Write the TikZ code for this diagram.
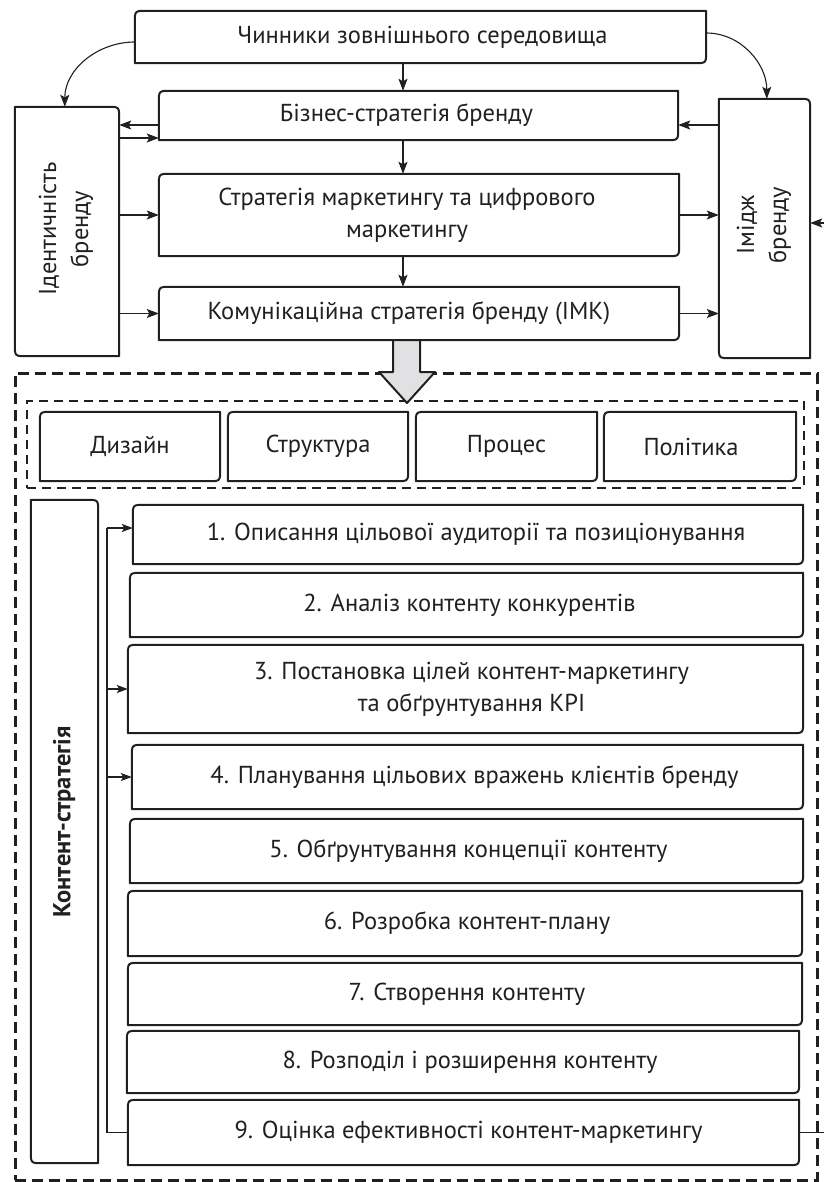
\documentclass[tikz,border=0pt]{standalone}
\usepackage{fontspec}
\setmainfont{PT Sans}
\usetikzlibrary{arrows.meta,calc}
\definecolor{ink}{HTML}{231F20}
\definecolor{arrowgray}{HTML}{E1E1E3}
\newcommand\fs{\fontsize{24.5}{32}\selectfont}
\def\rr{12pt}
\newcommand\tlbrbox[1]{\draw[edge] (#1.south west) -- ([yshift=-\rr]#1.north west) .. controls (#1.north west) .. ([xshift=\rr]#1.north west) -- (#1.north east) -- ([yshift=\rr]#1.south east) .. controls (#1.south east) .. ([xshift=-\rr]#1.south east) -- cycle;}
\newcommand\trblbox[1]{\draw[edge] (#1.north west) -- ([xshift=-\rr]#1.north east) .. controls (#1.north east) .. ([yshift=-\rr]#1.north east) -- (#1.south east) -- ([xshift=\rr]#1.south west) .. controls (#1.south west) .. ([yshift=\rr]#1.south west) -- cycle;}
\begin{document}
\begin{tikzpicture}[x=1pt,y=-1pt,
  box/.style={rectangle, inner sep=0pt, align=center, font=\fs, text=ink},
  edge/.style={draw=ink, line width=2pt, line join=round},
  conn/.style={draw=ink, line width=1.1pt, -{Stealth[length=12pt,width=9pt,inset=2.5pt]}},
  connS/.style={draw=ink, line width=1.1pt, -{Stealth[length=11pt,width=8pt,inset=2.5pt]}},
  plainline/.style={draw=ink, line width=1.1pt},
  lbl/.style={font=\fs, align=center, text=ink, inner sep=0pt},
  rlbl/.style={font=\fs, align=center, text=ink, inner sep=0pt, rotate=90},
  ]
\useasboundingbox (0,0) rectangle (823,1182);

% dashed frames
\node[draw=ink, line width=3pt, dash pattern=on 11pt off 6pt, minimum width=802pt, minimum height=807pt, inner sep=0pt] (outer) at (416,776.5) {};
\node[draw=ink, line width=2.2pt, dash pattern=on 9pt off 6pt, minimum width=777pt, minimum height=87pt, inner sep=0pt] (inner) at (415.5,444.5) {};

% big hollow arrow
\fill[arrowgray] (393,340) -- (393,372) -- (379,372) -- (407,403) -- (435,372) -- (420,372) -- (420,340) -- cycle;
\draw[edge] (393,340) -- (393,372) -- (379,372) -- (407,403) -- (435,372) -- (420,372) -- (420,340);

% top boxes
\node[box, minimum width=571pt, minimum height=52pt, label={[lbl, xshift=2pt]center:Чинники зовнішнього середовища}] (chin) at (420.5,37) {};
\node[box, minimum width=519pt, minimum height=49pt, label={[lbl, xshift=-12pt]center:Бізнес-стратегія бренду}] (biz) at (418.5,115.5) {};
\node[box, minimum width=520pt, minimum height=82pt, label={[lbl, xshift=-12pt]center:Стратегія маркетингу та цифрового\\маркетингу}] (strat) at (419,215) {};
\node[box, minimum width=520pt, minimum height=53pt, label={[lbl, xshift=-10pt]center:Комунікаційна стратегія бренду (IMK)}] (kom) at (419,313.5) {};
\node[box, minimum width=104pt, minimum height=249pt] (ident) at (67,231.5) {};
\node[rlbl] (identtxt) at (66,229) {Ідентичність\\бренду};
\node[box, minimum width=91pt, minimum height=259pt] (image) at (764.5,228.5) {};
\node[rlbl] (imagetxt) at (764,225) {Імідж\\бренду};
\tlbrbox{chin}\tlbrbox{biz}\tlbrbox{strat}\tlbrbox{kom}
\trblbox{ident}\trblbox{image}

% design row
\node[box, minimum width=180pt, minimum height=69pt] (d1) at (130,446.5) {Дизайн};
\node[box, minimum width=180pt, minimum height=69pt] (d2) at (318,446.5) {Структура};
\node[box, minimum width=181pt, minimum height=69pt] (d3) at (506.5,446.5) {Процес};
\node[box, minimum width=192pt, minimum height=69pt, label={[lbl, xshift=-9pt]center:Політика}] (d4) at (700,446.5) {};
\tlbrbox{d1}\tlbrbox{d2}\tlbrbox{d3}\tlbrbox{d4}

% content strategy
\node[box, minimum width=67pt, minimum height=663pt] (cont) at (64.5,831.5) {};
\node[rlbl, font=\fs\bfseries] (conttxt) at (64,822) {Контент-стратегія};
\trblbox{cont}

\node[box, minimum width=670pt, minimum height=59pt, label={[lbl, xshift=8pt]center:1. Описання цільової аудиторії та позиціонування}] (i1) at (468,534.5) {};
\node[box, minimum width=673pt, minimum height=64pt, label={[lbl, xshift=3pt]center:2. Аналіз контенту конкурентів}] (i2) at (466.5,605) {};
\node[box, minimum width=675pt, minimum height=88pt, label={[lbl, xshift=6pt]center:3. Постановка цілей контент-маркетингу\\та обґрунтування KPI}] (i3) at (465.5,689) {};
\node[box, minimum width=671pt, minimum height=64pt, label={[lbl, xshift=7pt]center:4. Планування цільових вражень клієнтів бренду}] (i4) at (467.5,777) {};
\node[box, minimum width=673pt, minimum height=64pt, label={[lbl, xshift=2pt]center:5. Обґрунтування концепції контенту}] (i5) at (466.5,851) {};
\node[box, minimum width=674pt, minimum height=65pt, label={[lbl, xshift=2pt]center:6. Розробка контент-плану}] (i6) at (465,923.5) {};
\node[box, minimum width=674pt, minimum height=62pt, label={[lbl, xshift=2pt]center:7. Створення контенту}] (i7) at (465,994) {};
\node[box, minimum width=672pt, minimum height=62pt, label={[lbl, xshift=7pt]center:8. Розподіл і розширення контенту}] (i8) at (463,1062) {};
\node[box, minimum width=671pt, minimum height=65pt, label={[lbl, xshift=5pt]center:9. Оцінка ефективності контент-маркетингу}] (i9) at (463.5,1132.5) {};
\foreach \n in {i1,i2,i3,i4,i5,i6,i7,i8,i9} {\tlbrbox{\n}}

% helper coordinates
\coordinate (vx) at (403,0);
\coordinate (h1) at (0,125);
\coordinate (h2) at (0,138);
\coordinate (hr) at (0,223);
\coordinate (c1) at (0,42);
\coordinate (c2) at (0,33);
\coordinate (rx) at (832,0);
\coordinate (cx) at (107,528);

% vertical arrows
\draw[conn] (chin.south -| vx) -- (biz.north -| vx);
\draw[conn] (biz.south -| vx) -- (strat.north -| vx);
\draw[conn] (strat.south -| vx) -- (kom.north -| vx);

% identity connections
\draw[conn] (biz.west |- h1) -- (ident.east |- h1);
\draw[conn] (ident.east |- h2) -- (biz.west |- h2);
\draw[conn] (ident.east |- strat.west) -- (strat.west);
\draw[conn] (ident.east |- kom.west) -- (kom.west);

% image connections
\draw[conn] (image.west |- h1) -- (biz.east |- h1);
\draw[conn] (strat.east) -- (image.west |- strat.east);
\draw[conn] (kom.east) -- (image.west |- kom.east);

% curved arrows
\draw[conn] (chin.west |- c1) to[out=180,in=90] ([xshift=50pt]ident.north west);
\draw[conn] (chin.east |- c2) to[out=0,in=90] ([xshift=48pt]image.north west);

% feedback loop at right
\draw[conn] (i9.east) -- (i9.east -| rx) -- (rx |- hr) -- (image.east |- hr);

% content connectors
\draw[plainline] (cx) |- (i9.west);
\draw[connS] (cx) -- (cx -| i1.west);
\draw[connS] (cx |- i3.west) -- (i3.west);
\draw[connS] (cx |- i4.west) -- (i4.west);
\end{tikzpicture}
\end{document}
